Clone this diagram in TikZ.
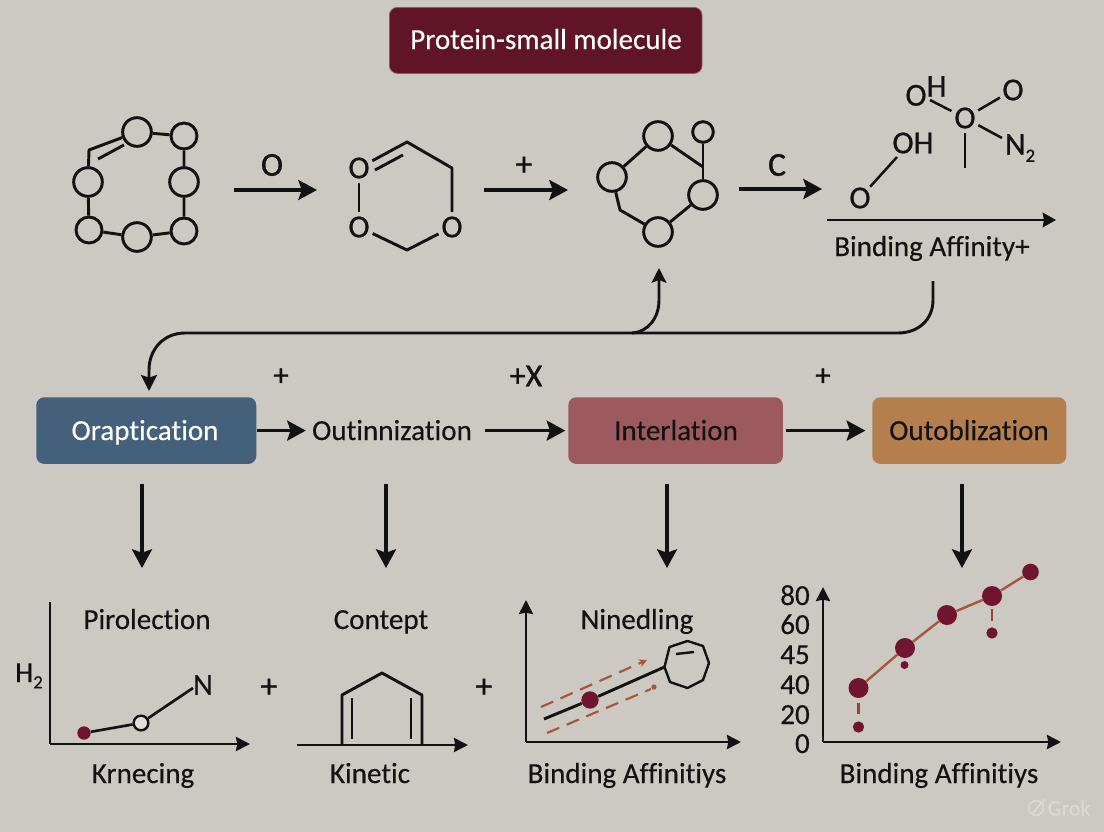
\documentclass[tikz,border=0pt]{standalone}
\usepackage{fontspec}
\setmainfont{Carlito}[Ligatures=NoCommon,FakeBold=0.3]
\newfontfamily\semi{Carlito}[Ligatures=NoCommon,FakeBold=1.2]
\newfontfamily\atomfont{Carlito}[Ligatures=NoCommon,FakeBold=0.7]
\usetikzlibrary{arrows.meta}
\definecolor{bg}{HTML}{CCC9C3}
\definecolor{ink}{HTML}{121212}
\definecolor{wine}{HTML}{5F1427}
\definecolor{slateb}{HTML}{44607A}
\definecolor{rosebox}{HTML}{9C5A5E}
\definecolor{ochre}{HTML}{B47F4D}
\definecolor{dotred}{HTML}{701430}
\definecolor{rust}{HTML}{A8553C}
\definecolor{mark}{HTML}{DAD8D3}
\newcommand{\subtwo}{\raisebox{-.22em}{\fontsize{14}{14}\selectfont 2}}
\tikzset{
  every node/.style={text=ink,inner sep=0pt},
  txt/.style={font=\fontsize{21.8}{26}\selectfont,text height=13pt,text depth=1pt},
  chem/.style={font=\atomfont\fontsize{24}{28}\selectfont},
  bld/.style={font=\semi\fontsize{25}{29}\selectfont},
  box/.style={rectangle,rounded corners=6pt,anchor=north west},
  bond/.style={draw=ink,line width=2.2pt,line join=round},
  atomL/.style={circle,draw=ink,line width=2.2pt,minimum size=21.5pt},
  atomS/.style={circle,draw=ink,line width=2.2pt,minimum size=19.5pt},
  atomT/.style={circle,draw=ink,line width=2.2pt,minimum size=15.5pt},
  letter/.style={circle,chem,minimum size=22pt},
  arr/.style={draw=ink,line width=2.5pt,-{Stealth[length=14pt,width=15pt,inset=2.5pt]}},
  thinarr/.style={draw=ink,line width=1.8pt,-{Stealth[length=10pt,width=11pt,inset=1pt]}},
  axis/.style={draw=ink,line width=2.1pt,-{Stealth[length=10.5pt,width=10.5pt,inset=1pt]}},
  dashy/.style={draw=rust,line width=1.6pt,dash pattern=on 10pt off 6pt},
  reddot/.style={circle,fill=dotred,minimum size=#1},
}
\begin{document}
\begin{tikzpicture}[x=0.75pt,y=-0.75pt]
\useasboundingbox (0,0) rectangle (1104,832);
\fill[bg] (0,0) rectangle (1104,832);

% Title
\node[box,fill=wine,draw=wine!70!white,line width=.6pt,minimum width=234.5pt,minimum height=49.5pt] (title) at (389,7) {};
\node[txt,text=white] (titletext) at (546,41) {Protein-small molecule};

% Molecule 1
\node[atomL] (m1a) at (137,132) {};
\node[atomS] (m1b) at (184,136) {};
\node[atomL] (m1c) at (184,182) {};
\node[atomS] (m1d) at (184,231) {};
\node[atomL] (m1e) at (137,237) {};
\node[atomS] (m1f) at (89,230) {};
\node[atomL] (m1g) at (88,182) {};
\coordinate (m1k) at (89,150);
\coordinate (m1p) at (98,159);
\coordinate (m1q) at (124,145);
\draw[bond] (m1a)--(m1b) (m1b)--(m1c) (m1c)--(m1d) (m1d)--(m1e) (m1e)--(m1f) (m1f)--(m1g);
\draw[bond] (m1g)--(m1k)--(m1a);
\draw[bond] (m1p)--(m1q);

% Arrow 1
\coordinate (a1s) at (234,190); \coordinate (a1e) at (317,190);
\draw[arr] (a1s)--(a1e);
\node[bld] (a1l) at (272,165) {O};

% Molecule 2
\node[letter] (m2a) at (359,168) {O};
\node[letter] (m2b) at (359,227) {O};
\node[letter] (m2c) at (452,227) {O};
\coordinate (m2t) at (407,142);
\coordinate (m2r) at (452,168);
\coordinate (m2u) at (407,250);
\coordinate (m2p) at (375,170);
\coordinate (m2q) at (403,155);
\draw[bond] (m2a)--(m2b);
\draw[bond] (m2b)--(m2u)--(m2c);
\draw[bond] (m2a)--(m2t)--(m2r)--(m2c);
\draw[bond] (m2p)--(m2q);

% Arrow 2
\coordinate (a2s) at (484,190); \coordinate (a2e) at (568,190);
\draw[arr] (a2s)--(a2e);
\node[bld] (a2l) at (524,166) {+};

% Molecule 3
\node[atomL] (m3a) at (658,136) {};
\node[atomT] (m3b) at (703,132) {};
\node[atomL] (m3c) at (703,195) {};
\node[atomL] (m3d) at (658,232) {};
\node[atomL] (m3e) at (612,177) {};
\coordinate (m3j) at (703,167);
\coordinate (m3k) at (620,210);
\draw[bond] (m3e)--(m3a);
\draw[bond] (m3a)--(m3j);
\draw[bond] (m3b)--(m3c);
\draw[bond] (m3c)--(m3d);
\draw[bond] (m3e)--(m3k)--(m3d);

% Arrow 3
\coordinate (a3s) at (739,189); \coordinate (a3e) at (822,189);
\draw[arr] (a3s)--(a3e);
\node[bld] (a3l) at (777,165) {C};

% Molecule 4
\node[letter,minimum size=20pt] (m4c) at (965,118) {O};
\node[chem] (m4oh) at (926,91) {O\raisebox{.28em}{H}};
\node[letter,minimum size=20pt] (m4o) at (1013,90) {O};
\node[chem] (m4n) at (1020,148) {N\subtwo};
\node[chem] (m4oh2) at (913,143) {OH};
\node[letter,minimum size=20pt] (m4p) at (860,198) {O};
\coordinate (m4t) at (965,168);
\coordinate (m4ohb) at (930,100);
\coordinate (m4nb) at (1002,138);
\coordinate (m4oh2b) at (897,157);
\draw[bond,line width=1.9pt] (m4ohb)--(m4c);
\draw[bond,line width=1.9pt] (m4c)--(m4o);
\draw[bond,line width=1.9pt] (m4c)--(m4nb);
\draw[bond,line width=1.9pt] (m4c)--(m4t);
\draw[bond,line width=1.9pt] (m4p)--(m4oh2b);

% Long arrow
\coordinate (a4s) at (827,220); \coordinate (a4e) at (1056,220);
\draw[thinarr] (a4s)--(a4e);
\node[txt] (bind1) at (932,248) {Binding Affinity+};

% Return curves
\coordinate (c1) at (933,281);
\coordinate (c2) at (149,391);
\coordinate (c3) at (659,268);
\draw[bond,-{Stealth[length=12pt,width=12pt,inset=2pt]}] (c1) -- (933,300) .. controls (933,320) and (918,333) .. (898,333) -- (185,333) .. controls (163,333) and (149,350) .. (149,370) -- (c2);
\draw[bond,-{Stealth[length=11pt,width=11pt,inset=2pt]}] (632,333) .. controls (648,332) and (659,318) .. (659,300) -- (c3);

% Row labels
\node[bld,font=\semi\fontsize{23}{27}\selectfont] (p1) at (281,377) {+};
\node[bld,font=\semi\fontsize{24}{28}\selectfont] (p2) at (526,376) {+X};
\node[bld,font=\semi\fontsize{23}{27}\selectfont] (p3) at (823,377) {+};

% Row boxes
\node[box,fill=slateb,minimum width=165pt,minimum height=50pt] (b1) at (36,397) {};
\node[txt,text=white] (b1t) at (145,432) {Oraptication};
\node[txt,inner xsep=4.5pt] (b2) at (392,432) {Outinnization};
\node[box,fill=rosebox,minimum width=161pt,minimum height=50pt] (b3) at (568,397) {};
\node[txt] (b3t) at (676,432) {Interlation};
\node[box,fill=ochre,minimum width=145.5pt,minimum height=50pt] (b4) at (872,397) {};
\node[txt] (b4t) at (969,432) {Outoblization};
\draw[arr] (b1.east)--(b1.east -| b2.west);
\draw[arr,shorten <=5pt,shorten >=2pt] (b3.west -| b2.east)--(b3.west);
\draw[arr,shorten <=2pt,shorten >=5pt] (b3.east)--(b4.west);

% Down arrows
\coordinate (d1s) at (142,484); \coordinate (d1e) at (142,568);
\coordinate (d2s) at (386,484); \coordinate (d2e) at (386,568);
\coordinate (d3s) at (667,484); \coordinate (d3e) at (667,568);
\coordinate (d4s) at (962,484); \coordinate (d4e) at (962,568);
\draw[arr] (d1s)--(d1e);
\draw[arr] (d2s)--(d2e);
\draw[arr] (d3s)--(d3e);
\draw[arr] (d4s)--(d4e);

% Chart 1
\coordinate (x1o) at (50,744); \coordinate (x1t) at (50,602); \coordinate (x1r) at (250,744);
\draw[axis,-] (x1t)--(x1o);
\draw[axis] (x1o)--(x1r);
\node[txt] (h1) at (147,621) {Pirolection};
\node[txt] (h2) at (29,674) {H\subtwo};
\node[txt] (h3) at (143,775) {Krnecing};
\node[chem,font=\fontsize{23}{27}\selectfont] (n1) at (203,685) {N};
\node[reddot=10pt] (d1) at (84,733) {};
\node[circle,draw=ink,line width=1.8pt,fill=bg!60!white,minimum size=11pt] (d2) at (141,723) {};
\coordinate (n1b) at (193,688);
\draw[bond,line width=2pt] (d1)--(d2);
\draw[bond,line width=2pt] (d2)--(n1b);
\node[bld] (p4) at (269,688) {+};

% Chart 2
\coordinate (x2o) at (297,745); \coordinate (x2r) at (468,745);
\draw[axis] (x2o)--(x2r);
\node[txt] (h4) at (381,621) {Contept};
\node[txt] (h5) at (370,775) {Kinetic};
\coordinate (hA) at (342,745); \coordinate (hB) at (342,695); \coordinate (hC) at (382,673); \coordinate (hD) at (422,695); \coordinate (hE) at (422,745);
\draw[bond] (hA)--(hB)--(hC)--(hD)--(hE);
\coordinate (hF) at (352,698); \coordinate (hG) at (352,739); \coordinate (hH) at (411,698); \coordinate (hI) at (411,739);
\draw[bond,line width=1.8pt] (hF)--(hG);
\draw[bond,line width=1.8pt] (hH)--(hI);
\node[bld] (p5) at (484,688) {+};

% Chart 3
\coordinate (x3o) at (526,742); \coordinate (x3t) at (526,600); \coordinate (x3r) at (741,742);
\draw[axis] (x3o)--(x3t);
\draw[axis] (x3o)--(x3r);
\node[txt] (h6) at (637,621) {Ninedling};
\node[txt] (h7) at (627,775) {Binding Affinitiys};
\coordinate (o1) at (687.5,641); \coordinate (o2) at (703,646); \coordinate (o3) at (709,663); \coordinate (o4) at (703,680);
\coordinate (o5) at (687.5,688); \coordinate (o6) at (670,682); \coordinate (o7) at (664.5,667); \coordinate (o8) at (669.5,647);
\draw[bond,line width=1.8pt] (o1)--(o2)--(o3)--(o4)--(o5)--(o6)--(o7)--(o8)--cycle;
\coordinate (o9) at (676,654); \coordinate (o10) at (694,652);
\draw[bond,line width=1.8pt] (o9)--(o10);
\node[reddot=13pt] (d3) at (590,700) {};
\coordinate (l3) at (544,719);
\draw[bond] (l3)--(d3);
\draw[bond] (d3)--(o7);
\coordinate (u1) at (541,707); \coordinate (u2) at (647,660);
\coordinate (w1) at (547,733); \coordinate (w2) at (651,689);
\draw[dashy,-{Stealth[length=6pt,width=6pt]}] (u1)--(u2);
\draw[dashy] (w1)--(w2);
\node[circle,fill=rust,minimum size=4pt] (w3) at (654,687) {};

% Chart 4
\coordinate (x4o) at (823,742); \coordinate (x4t) at (823,587); \coordinate (x4r) at (1061,742);
\draw[axis] (x4o)--(x4t);
\draw[axis] (x4o)--(x4r);
\node[txt,anchor=east] (t80) at (810,597) {80};
\node[txt,anchor=east] (t60) at (810,626) {60};
\node[txt,anchor=east] (t45) at (810,656) {45};
\node[txt,anchor=east] (t40) at (810,686) {40};
\node[txt,anchor=east] (t20) at (810,716) {20};
\node[txt,anchor=east] (t0) at (810,745) {0};
\node[txt] (h8) at (939,775) {Binding Affinitiys};
\node[reddot=15pt] (q1) at (858.5,688) {};
\node[reddot=15pt] (q2) at (905,648) {};
\node[reddot=15pt] (q3) at (947,615) {};
\node[reddot=15pt] (q4) at (992,596) {};
\node[reddot=12.5pt] (q5) at (1030.5,572) {};
\draw[draw=rust,line width=1.8pt] (q1)--(q2);
\draw[draw=rust,line width=1.8pt] (q2)--(q3);
\draw[draw=rust,line width=1.8pt] (q3)--(q4);
\draw[draw=rust,line width=1.8pt] (q4)--(q5);
\node[reddot=8.5pt] (r1) at (858.5,727) {};
\node[reddot=6pt] (r2) at (904.5,665) {};
\node[reddot=8.5pt] (r3) at (992,633) {};
\coordinate (s1) at (858.5,703); \coordinate (s2) at (858.5,714);
\coordinate (s3) at (992,609); \coordinate (s4) at (992,621);
\draw[draw=rust!70!dotred,line width=2pt] (s1)--(s2);
\draw[draw=rust!70!dotred,line width=2pt] (s3)--(s4);

% Watermark
\node[circle,draw=mark,line width=1.3pt,minimum size=11pt] (gi) at (1036,808) {};
\coordinate (gs1) at (1032,814); \coordinate (gs2) at (1045,799);
\draw[draw=mark,line width=1.3pt] (gs1)--(gs2);
\node[text=mark,font=\semi\fontsize{16.5}{20}\selectfont] (gt) at (1069,808) {Grok};
\end{tikzpicture}
\end{document}
